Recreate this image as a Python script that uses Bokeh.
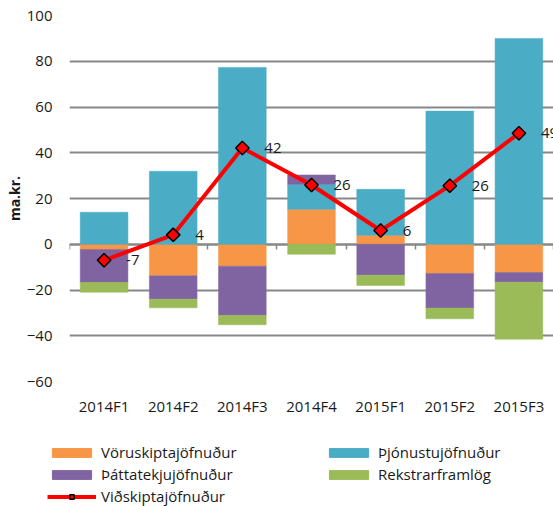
import numpy as np
from bokeh.plotting import figure
from bokeh.layouts import column
from bokeh.models import (Range1d, FixedTicker, LinearAxis, Legend, LegendItem,
                          ColumnDataSource)
from bokeh.core.properties import value
from bokeh.embed import file_html
from bokeh.resources import INLINE

categories = ["2014F1", "2014F2", "2014F3", "2014F4", "2015F1", "2015F2", "2015F3"]
voruskipta = [-2.3, -13.8, -9.6, 15.3, 3.9, -12.8, -12.4]
thjonustu = [14.0, 31.9, 77.3, 10.9, 20.1, 58.2, 90.0]
thattatekju = [-14.4, -10.2, -21.5, 4.1, -13.5, -15.1, -4.2]
rekstrar = [-4.3, -3.8, -4.1, -4.4, -4.5, -4.7, -24.9]
vidskipta = [-7.0, 4.1, 42.1, 25.9, 6.0, 25.6, 48.5]
vidskipta_labels = ["-7", "4", "42", "26", "6", "26", "49"]
y_ticks = [-60, -40, -20, 0, 20, 40, 60, 80, 100]

series = [
    ("Vöruskiptajöfnuður", voruskipta, "#F79646"),
    ("Þjónustujöfnuður", thjonustu, "#4BACC6"),
    ("Þáttatekjujöfnuður", thattatekju, "#8064A2"),
    ("Rekstrarframlög", rekstrar, "#9BBB59"),
]
line_name = "Viðskiptajöfnuður"

FONT = "Open Sans"
GRID = "#878787"
TXT = "#1a1a1a"
RED = "#FF0000"

n = len(categories)
xc = np.arange(n) + 0.5

p = figure(width=553, height=430, x_range=Range1d(0, n), y_range=Range1d(-60, 100),
           output_backend="svg", toolbar_location=None,
           min_border_left=69, min_border_right=0, min_border_top=15, min_border_bottom=49)
p.outline_line_color = None
p.background_fill_color = "white"
p.border_fill_color = "white"

# grid
p.xgrid.visible = False
p.ygrid.ticker = FixedTicker(ticks=y_ticks)
p.ygrid.grid_line_color = GRID
p.ygrid.grid_line_width = 2

# y axis
yax = p.yaxis[0]
yax.ticker = FixedTicker(ticks=y_ticks)
yax.axis_line_color = None
yax.major_tick_line_color = None
yax.minor_tick_line_color = None
yax.major_tick_out = 0
yax.major_label_standoff = 17
yax.major_label_text_font = FONT
yax.major_label_text_font_size = "15px"
yax.major_label_text_color = TXT
yax.axis_label = "ma.kr."
yax.axis_label_text_font = FONT
yax.axis_label_text_font_size = "14px"
yax.axis_label_text_font_style = "bold"
yax.axis_label_text_color = TXT
yax.axis_label_standoff = 0

# x axis (labels only)
xax = p.xaxis[0]
xax.ticker = FixedTicker(ticks=list(xc))
xax.major_label_overrides = {float(x): c for x, c in zip(xc, categories)}
xax.axis_line_color = None
xax.major_tick_line_color = None
xax.minor_tick_line_color = None
xax.major_tick_out = 0
xax.major_label_standoff = 14
xax.major_label_text_font = FONT
xax.major_label_text_font_size = "15px"
xax.major_label_text_color = TXT

# zero axis line with ticks at category boundaries
zax = LinearAxis(fixed_location=0, ticker=FixedTicker(ticks=list(range(n + 1))))
zax.axis_line_color = GRID
zax.axis_line_width = 2
zax.major_tick_line_color = GRID
zax.major_tick_line_width = 1.5
zax.major_tick_in = 5
zax.major_tick_out = 0
zax.minor_tick_line_color = None
zax.major_label_text_font_size = "1px"
zax.major_label_text_color = None
zax.major_label_standoff = 0
zax.level = "underlay"
p.add_layout(zax, "above")

# stacked bars
pos_cum = np.zeros(n)
neg_cum = np.zeros(n)
bar_sources = {}
for name, vals, color in series:
    v = np.array(vals, dtype=float)
    bottom = np.where(v >= 0, pos_cum, neg_cum + v)
    top = np.where(v >= 0, pos_cum + v, neg_cum)
    pos_cum = pos_cum + np.where(v >= 0, v, 0)
    neg_cum = neg_cum + np.where(v < 0, v, 0)
    src = ColumnDataSource(dict(x=xc, top=top, bottom=bottom))
    bar_sources[name] = src
    p.vbar(x="x", top="top", bottom="bottom", width=0.69, source=src,
           fill_color=color, line_color=color, line_width=0.5)

# line
lsrc = ColumnDataSource(dict(x=xc, y=vidskipta, lab=vidskipta_labels))
p.line("x", "y", source=lsrc, line_color=RED, line_width=4)
p.scatter("x", "y", source=lsrc, marker="square", angle=np.pi / 4, size=9.5,
          fill_color=RED, line_color="black", line_width=1.5)
p.text("x", "y", text="lab", source=lsrc, x_offset=22, text_align="left",
       text_baseline="middle", text_font=value(FONT), text_font_size="15px",
       text_color=TXT)

# legend panel (separate figure below the chart; same data, viewed out of range)
can_unalign = "frame_align" in p.properties()
q_left = 0 if can_unalign else 69
q = figure(width=553, height=76, x_range=Range1d(1000, 1001), y_range=Range1d(1000, 1001),
           output_backend="svg", toolbar_location=None,
           x_axis_location=None, y_axis_location=None,
           min_border_left=q_left, min_border_right=0, min_border_top=0, min_border_bottom=0)
if can_unalign:
    p.frame_align = False
    q.frame_align = False
q.grid.visible = False
q.outline_line_color = None
q.border_fill_color = "white"
q.background_fill_color = "white"

leg_r = {}
for name, vals, color in series:
    leg_r[name] = q.vbar(x="x", top="top", bottom="bottom", width=0.69,
                         source=bar_sources[name], fill_color=color, line_color=color)
ql = q.line("x", "y", source=lsrc, line_color=RED, line_width=4)
qm = q.scatter("x", "y", source=lsrc, marker="square", angle=np.pi / 4, size=9.5,
               fill_color=RED, line_color="black", line_width=1.5)

def make_legend(items, loc):
    lg = Legend(items=items, location=loc, orientation="vertical")
    lg.padding = 0
    lg.margin = 0
    lg.spacing = 2
    lg.border_line_color = None
    lg.background_fill_alpha = 0
    lg.glyph_width = 49
    lg.glyph_height = 11
    lg.label_height = 20
    lg.label_standoff = 5
    lg.label_text_font = FONT
    lg.label_text_font_size = "15px"
    lg.label_text_color = TXT
    return lg

leg1 = make_legend([
    LegendItem(label=series[0][0], renderers=[leg_r[series[0][0]]]),
    LegendItem(label=series[2][0], renderers=[leg_r[series[2][0]]]),
    LegendItem(label=line_name, renderers=[ql, qm]),
], (47 - q_left, 0))
leg2 = make_legend([
    LegendItem(label=series[1][0], renderers=[leg_r[series[1][0]]]),
    LegendItem(label=series[3][0], renderers=[leg_r[series[3][0]]]),
], (324 - q_left, 22))
q.add_layout(leg1, "center")
q.add_layout(leg2, "center")

layout = column(p, q, spacing=0)
open("out.html", "w").write(file_html(layout, INLINE))
